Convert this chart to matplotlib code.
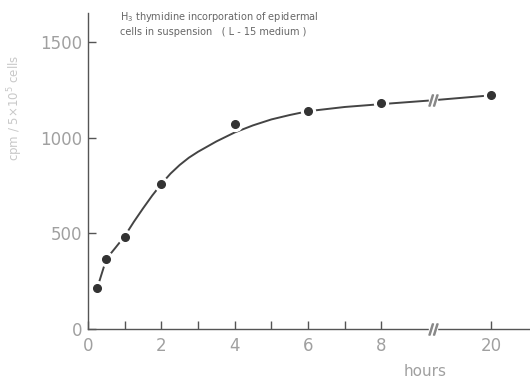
import matplotlib
matplotlib.use("Agg")
import matplotlib.pyplot as plt
import numpy as np

# measured points (hours, cpm)
hours = [0.25, 0.5, 1, 2, 4, 6, 8, 20]
cpm = [213, 366, 481, 758, 1070, 1141, 1179, 1221]

# fitted curve
curve_hours = [0.25, 0.5, 0.75, 1, 1.25, 1.5, 1.75, 2, 2.25, 2.5, 2.75, 3, 3.5, 4, 4.5, 5, 5.5, 6, 7, 8, 9.4, 20]
curve_cpm = [213, 366, 425, 485, 560, 630, 697, 758, 812, 857, 895, 926, 980, 1027, 1064, 1095, 1118, 1138, 1160, 1175, 1195, 1221]

xtick_labels = ["0", "2", "4", "6", "8", "20"]
xtick_hours = [0, 2, 4, 6, 8, 20]
ytick_vals = [0, 500, 1000, 1500]

def pos(h):
    # broken axis: 0-9.4 linear, 20 h drawn at 11
    h = np.asarray(h, dtype=float)
    return np.where(h > 9.4, 11 - (20 - h) * (1.6 / 10.6), h)

brk = 9.4

fig = plt.figure(figsize=(5.30, 3.81), dpi=100)
ax = fig.add_axes([88 / 530, 52 / 381, 1 - 88 / 530, (329 - 13) / 381])
ax.set_xlim(0, 12.05)
ax.set_ylim(0, 1651)

for s in ["top", "right"]:
    ax.spines[s].set_visible(False)
for s in ["left", "bottom"]:
    ax.spines[s].set_color("#555555")
    ax.spines[s].set_linewidth(1.0)

ax.plot(pos(curve_hours), curve_cpm, color="#444444", lw=1.4, zorder=2)
# white halo makes the gap round each point
ax.plot(pos(hours), cpm, "o", ms=10, color="white", zorder=3)
ax.plot(pos(hours), cpm, "o", ms=5.5, color="#333333", zorder=4)

# break marks
for yb in [1195, 0]:
    ax.plot([brk], [yb], marker="s", ms=6, color="white", zorder=5, clip_on=False)
    ax.plot([brk], [yb], marker=r"$//$", ms=8, color="#888888", zorder=6, clip_on=False)

ax.set_xticks(pos(xtick_hours))
ax.set_xticklabels(xtick_labels)
ax.set_xticks([1, 3, 5, 7], minor=True)
ax.set_yticks(ytick_vals)
ax.tick_params(axis="both", direction="in", length=6, width=1, color="#555555",
               labelcolor="#a0a0a0", labelsize=12)
ax.tick_params(axis="x", which="minor", direction="in", length=6, width=1, color="#555555")
ax.tick_params(axis="x", pad=6)
ax.tick_params(axis="y", pad=4)

fig.text(15 / 530, 1 - 108 / 381, "cpm / 5\u00d710$^5$ cells", rotation=90, ha="center", va="center",
         color="#c8c8c8", fontsize=8.5)
fig.text(120 / 530, 1 - 17 / 381, "H$_3$ thymidine incorporation of epidermal",
         color="#666666", fontsize=7, va="center")
fig.text(120 / 530, 1 - 32 / 381, "cells in suspension   ( L - 15 medium )",
         color="#666666", fontsize=7, va="center")
fig.text(425 / 530, 1 - 371 / 381, "hours", color="#a0a0a0", fontsize=11, ha="center", va="center")

fig.savefig("out.png", dpi=100, facecolor="white")
